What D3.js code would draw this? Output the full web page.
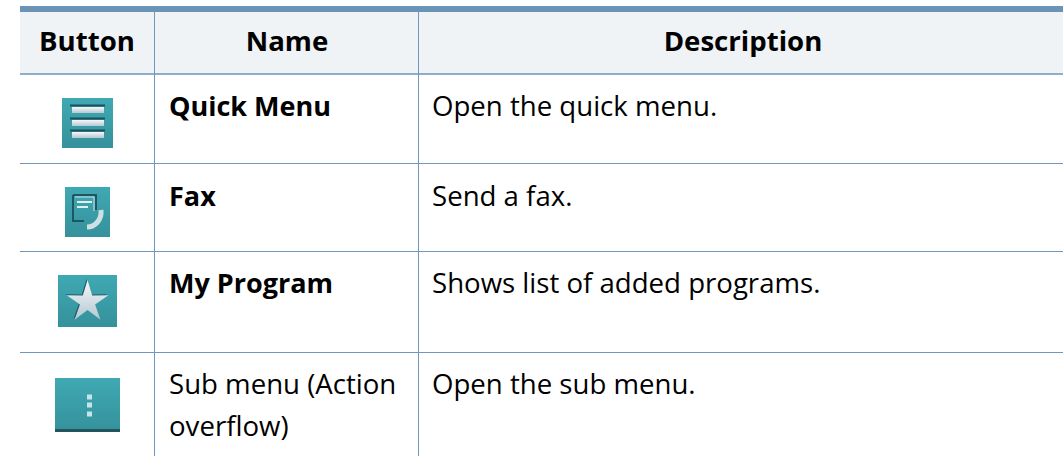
<!DOCTYPE html>
<html><head><meta charset="utf-8">
<script src="https://cdn.jsdelivr.net/npm/d3@7/dist/d3.min.js"></script>
<style>html,body{margin:0;padding:0;background:#fff;overflow:hidden}svg{display:block}text{font-family:"Open Sans",sans-serif;fill:#000}</style>
</head><body><svg id="c" width="1063" height="456"></svg>
<script>
const headers = ["Button", "Name", "Description"];
const iconKinds = ["menu", "fax", "star", "overflow"];
const names = [["Quick Menu"], ["Fax"], ["My Program"], ["Sub menu (Action", "overflow)"]];
const nameBold = [true, true, true, false];
const descriptions = ["Open the quick menu.", "Send a fax.", "Shows list of added programs.", "Open the sub menu."];

const W = 1063, H = 456, FS_HEAD = 27.6, FS_BOLD = 27, FS_REG = 27.6;
const svg = d3.select("#c");
const defs = svg.append("defs");
const g = defs.append("linearGradient").attr("id","teal").attr("x1",0).attr("y1",0).attr("x2",0).attr("y2",1);
g.append("stop").attr("offset",0).attr("stop-color","#3fa9b3");
g.append("stop").attr("offset",1).attr("stop-color","#35919b");
const g2 = defs.append("linearGradient").attr("id","white").attr("x1",0).attr("y1",0).attr("x2",0).attr("y2",1);
g2.append("stop").attr("offset",0).attr("stop-color","#f5f8fa");
g2.append("stop").attr("offset",1).attr("stop-color","#b4c8d2");

const colEdges = [20, 154, 418, W];
const rowEdges = [74, 163, 251, 352, H];
const x = i => colEdges[i];

svg.append("rect").attr("x",20).attr("y",12).attr("width",W-20).attr("height",61).attr("fill","#eff3f6");
svg.append("rect").attr("x",20).attr("y",6).attr("width",W-20).attr("height",6).attr("fill","#6a93b6");
svg.append("rect").attr("x",20).attr("y",73).attr("width",W-20).attr("height",2).attr("fill","#8eadcb");

svg.selectAll("line.h").data(rowEdges.slice(1,4)).join("line")
  .attr("x1",20).attr("x2",W).attr("y1",d=>d+0.5).attr("y2",d=>d+0.5).attr("stroke","#7097bf").attr("stroke-width",1);
svg.selectAll("line.v").data([1,2]).join("line")
  .attr("x1",d=>x(d)+0.5).attr("x2",d=>x(d)+0.5).attr("y1",12).attr("y2",H).attr("stroke","#7097bf").attr("stroke-width",1);

const headerCenters = [87, 287, 743];
svg.selectAll("text.hd").data(headers).join("text").attr("class","hd")
  .attr("x",(d,i)=>headerCenters[i]).attr("y",51).attr("text-anchor","middle")
  .attr("font-size",FS_HEAD).attr("font-weight",700).text(d=>d);

const baselines = [116, 206, 293, 394];
names.forEach((lines,i)=>{
  lines.forEach((t,j)=>svg.append("text").attr("x",169).attr("y",baselines[i]+j*42)
    .attr("font-size",nameBold[i]?FS_BOLD:FS_REG).attr("font-weight",nameBold[i]?700:400).text(t));
});
svg.selectAll("text.ds").data(descriptions).join("text").attr("class","ds")
  .attr("x",432).attr("y",(d,i)=>baselines[i]).attr("font-size",FS_REG).text(d=>d);

const boxes = {menu:[62,98,51,50], fax:[65,187,45,50], star:[58,275,59,52], overflow:[55,378,65,54]};
iconKinds.forEach(k=>{
  const [bx,by,bw,bh] = boxes[k];
  const ic = svg.append("g").attr("transform",`translate(${bx},${by})`);
  ic.append("rect").attr("width",bw).attr("height",bh).attr("fill","url(#teal)");
  if(k==="menu"){
    [8,21,33].forEach(yy=>{
      ic.append("rect").attr("x",8).attr("y",yy-1.5).attr("width",35).attr("height",2).attr("fill","#1d4f5c");
      ic.append("rect").attr("x",10).attr("y",yy+1).attr("width",32).attr("height",6).attr("fill","url(#white)");
    });
  } else if(k==="fax"){
    ic.append("path").attr("d","M8 8H31V23M8 8V34H19").attr("fill","none").attr("stroke","#1e5663").attr("stroke-width",2);
    ic.append("path").attr("d","M10 10H29V24").attr("fill","none").attr("stroke","#cfe2e6").attr("stroke-width",1);
    ic.append("path").attr("d","M12 15H27M12 20H23").attr("stroke","#e3eef0").attr("stroke-width",2);
    ic.append("path").attr("d","M36 23C37 33 30 40 22 40").attr("fill","none").attr("stroke","#cfe0e4").attr("stroke-width",5);
  } else if(k==="star"){
    const pts = d3.range(10).map(i=>{const r=i%2?8:22,a=-Math.PI/2+i*Math.PI/5;return [bw/2+r*Math.cos(a),27+r*Math.sin(a)];});
    ic.append("polygon").attr("points",pts.map(p=>p.join(",")).join(" ")).attr("fill","#173f4a").attr("opacity",0.7).attr("transform","translate(-1,-1)");
    ic.append("polygon").attr("points",pts.map(p=>p.join(",")).join(" ")).attr("fill","url(#white)");
  } else {
    ic.append("rect").attr("y",bh-3).attr("width",bw).attr("height",3).attr("fill","#23545c");
    [19,27,36].forEach(cy=>ic.append("rect").attr("x",32).attr("y",cy-2.5).attr("width",5).attr("height",5).attr("fill","#c5e5e8"));
  }
});
</script></body></html>
